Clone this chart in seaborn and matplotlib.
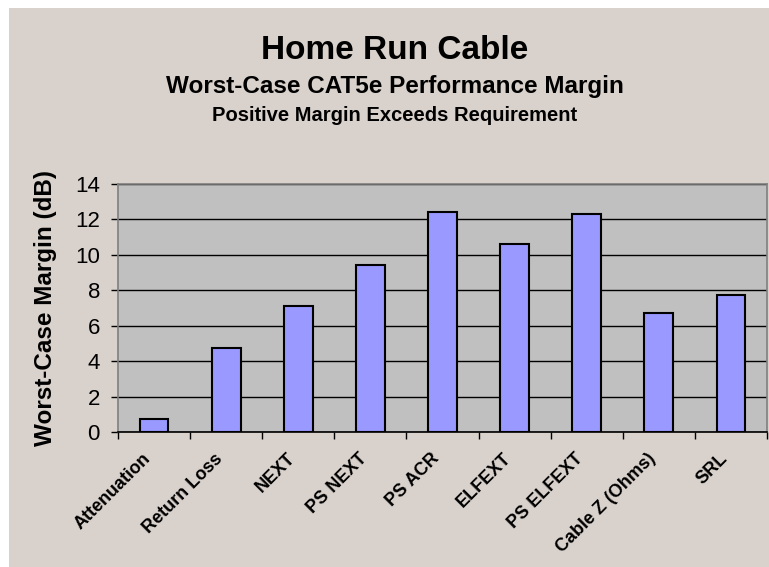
import numpy as np
import pandas as pd
import matplotlib
matplotlib.use('Agg')
import matplotlib.pyplot as plt
from matplotlib.patches import Rectangle
from matplotlib.ticker import FixedLocator
import seaborn as sns

# Worst-case margin per test parameter (dB)
tests = ['Attenuation', 'Return Loss', 'NEXT', 'PS NEXT', 'PS ACR',
         'ELFEXT', 'PS ELFEXT', 'Cable Z (Ohms)', 'SRL']
margin_db = [0.73, 4.73, 7.12, 9.42, 12.44, 10.61, 12.30, 6.71, 7.73]
y_ticks = [0, 2, 4, 6, 8, 10, 12, 14]

df = pd.DataFrame({'Test': tests, 'Margin': margin_db})

sns.set_style('white')
plt.rcParams['font.family'] = ['Liberation Sans', 'DejaVu Sans']
plt.rcParams['text.color'] = 'black'
plt.rcParams['axes.labelcolor'] = 'black'
plt.rcParams['xtick.color'] = 'black'
plt.rcParams['ytick.color'] = 'black'

fig = plt.figure(figsize=(7.69, 5.67), dpi=100, facecolor='white')
# beige panel behind the chart
fig.patches.append(Rectangle((9 / 769, 0), 1, 1 - 8 / 567, transform=fig.transFigure,
                             facecolor='#D9D1CB', edgecolor='none', zorder=-10))

ax = fig.add_axes([118 / 769, 1 - 432 / 567, 649 / 769, 248 / 567])
ax.set_facecolor('#C0C0C0')

sns.barplot(data=df, x='Test', y='Margin', color='#9999FF', saturation=1,
            edgecolor='black', linewidth=1.5, width=0.4, ax=ax, zorder=3)

ax.set_ylim(0, 14)
ax.set_xlim(-0.5, len(tests) - 0.5)
ax.set_yticks(y_ticks)
ax.yaxis.grid(True, color='black', linewidth=1, zorder=1)
ax.set_axisbelow(True)

for side in ['top', 'right', 'left']:
    ax.spines[side].set_color('#808080')
    ax.spines[side].set_linewidth(1.2)
ax.spines['bottom'].set_color('black')
ax.spines['bottom'].set_linewidth(1.2)

ax.tick_params(axis='y', which='major', left=True, length=5, width=1,
               labelsize=16, pad=8)
ax.tick_params(axis='x', which='major', bottom=True, length=0, pad=13)
ax.xaxis.set_minor_locator(FixedLocator(np.arange(-0.5, len(tests), 1.0)))
ax.tick_params(axis='x', which='minor', bottom=True, length=5, width=1)

ax.set_xticks(range(len(tests)))
ax.set_xticklabels(tests, rotation=45, ha='right', fontsize=13, fontweight='bold')

ax.set_xlabel('')
ax.set_ylabel('Worst-Case Margin (dB)', fontsize=17.5, fontweight='bold')
ax.yaxis.set_label_coords(-0.094, 0.5)

fig.text(395 / 769, 1 - 59 / 567, 'Home Run Cable', ha='center', va='baseline',
         fontsize=24, fontweight='bold')
fig.text(395 / 769, 1 - 93 / 567, 'Worst-Case CAT5e Performance Margin', ha='center',
         va='baseline', fontsize=17.5, fontweight='bold')
fig.text(395 / 769, 1 - 121 / 567, 'Positive Margin Exceeds Requirement', ha='center',
         va='baseline', fontsize=14.5, fontweight='bold')

fig.savefig('out.png', dpi=100, facecolor='white')
